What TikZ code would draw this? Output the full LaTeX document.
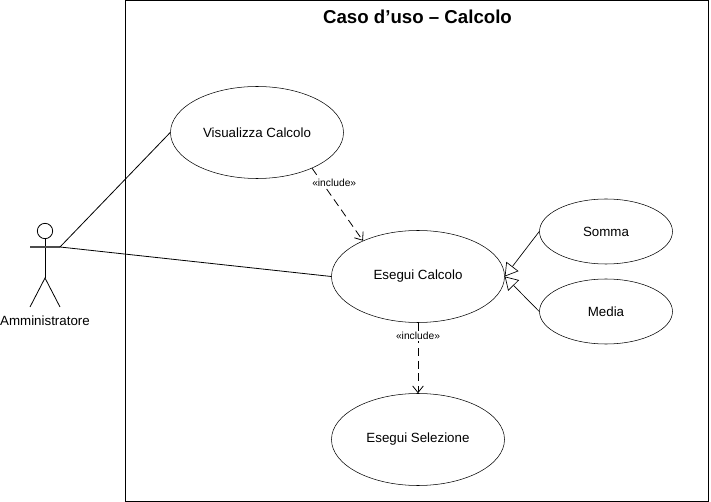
\documentclass[tikz,border=0pt]{standalone}
\usepackage{fontspec}
\setmainfont{Liberation Sans}
\usetikzlibrary{arrows.meta,shapes.geometric}

\begin{document}
\begin{tikzpicture}[x=0.75pt,y=-0.75pt]
    \tikzstyle{usecase}=[ellipse,draw,thin,fill=white,inner sep=0pt,font=\fontsize{10pt}{12pt}\selectfont]
    \tikzstyle{big}=[usecase,minimum width=129.75pt,minimum height=69pt]  % casi d'uso grandi
    \tikzstyle{small}=[usecase,minimum width=99.75pt,minimum height=48.75pt]  % casi d'uso piccoli
    \tikzstyle{assoc}=[draw,line width=0.6pt]
    \tikzstyle{actor}=[draw,line width=0.6pt]
    \tikzstyle{gen}=[draw,line width=0.5pt,-{Triangle[open,fill=white,length=9.5pt,width=11.5pt]}]
    \tikzstyle{incl}=[draw,line width=0.6pt,dash pattern=on 6pt off 3.5pt,-{Straight Barb[length=5pt,width=8pt]}]
    \tikzstyle{tag}=[fill=white,inner sep=1pt,font=\fontsize{7.7pt}{9pt}\selectfont]

    \useasboundingbox (0,0) rectangle (711,502);

    % cornice
    \node[draw,line width=0.6pt,minimum width=437.25pt,minimum height=375pt,inner sep=0pt,anchor=north west](frame) at (125,0.5){};
    \node[font=\fontsize{14pt}{17pt}\selectfont\bfseries](title) at (417.5,17){Caso d'uso -- Calcolo};

    % casi d'uso
    \node[big](visualizza) at (257,132.5){Visualizza Calcolo};
    \node[big](calcolo) at (418,276.5){Esegui Calcolo};
    \node[big](selezione) at (418,439.5){Esegui Selezione};
    \node[small](somma) at (606,231.5){Somma};
    \node[small](media) at (606,311.5){Media};

    % attore
    \node[circle,actor,minimum size=11.5pt,inner sep=0pt](head) at (45,231){};
    \coordinate(armL) at (30,247);
    \coordinate(armR) at (60,247);
    \coordinate(hip) at (45,278);
    \coordinate(footL) at (30,307);
    \coordinate(footR) at (60,307);
    \node[font=\fontsize{10pt}{12pt}\selectfont](attore) at (45,320.5){Amministratore};
    \draw[actor](head.south)--(hip);
    \draw[line width=1pt,draw=black!70](armL)--(armR);
    \draw[actor](footL)--(hip)--(footR);

    % linee
    \draw[assoc](armR)--(visualizza.west);
    \draw[assoc](armR)--(calcolo.west);
    \draw[gen](somma.west)--(calcolo.east);
    \draw[gen](media.west)--(calcolo.east);
    \draw[incl](visualizza.-33)--node[tag,pos=0.2,xshift=9pt]{«include»}(calcolo.147);
    \draw[incl](calcolo.south)--node[tag,pos=0.19]{«include»}(selezione.north);
\end{tikzpicture}
\end{document}
